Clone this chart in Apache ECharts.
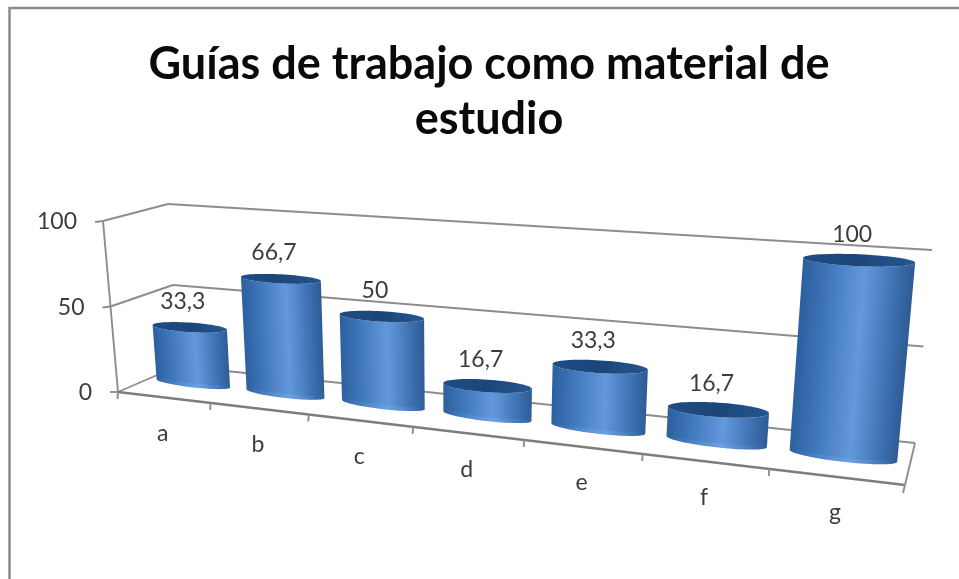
<!DOCTYPE html>
<html><head><meta charset="utf-8">
<style>html,body{margin:0;padding:0;background:#fff}#c{width:959px;height:579px;filter:blur(0.7px)}</style>
<script src="https://cdn.jsdelivr.net/npm/echarts@6/dist/echarts.min.js"></script>
</head><body><div id="c"></div>
<script>
const titleText = 'Guías de trabajo como material de\nestudio';
const categories = ['a','b','c','d','e','f','g'];
const values = [33.3,66.7,50,16.7,33.3,16.7,100];
const valueTicks = [0,50,100];

// oblique 3D view: screen positions of the plot box corners
const FBL=[118,392],FBR=[905,485],FTL=[103,221],FTR=[925,281];
const BBL=[178,366],BBR=[915,443],BTL=[168,204],BTR=[932,250];
const PERSP=1.25, BAR=0.82, DEPTH=0.52, RB=0.15, RT=0.2, TILT_TOP=0.65;
const FONT='Lato, "Noto Sans", sans-serif';
const LINE='#8d8d8d', TXT='#3c3c3c';

const mix=(a,b,s)=>[a[0]+(b[0]-a[0])*s,a[1]+(b[1]-a[1])*s];
function proj3(t,vf,d){
  const w=t/(t+PERSP*(1-t));
  const fb=mix(FBL,FBR,w),ft=mix(FTL,FTR,w),bb=mix(BBL,BBR,w),bt=mix(BTL,BTR,w);
  return mix(mix(fb,ft,vf),mix(bb,bt,vf),d);
}
// turns a value through the hidden grid's scales into the oblique view
function viewer(params,api){
  const r=params.coordSys;
  const last=categories.length-1;
  return (cat,val,d)=>{
    const base=Math.max(0,Math.min(last,Math.round(cat)));
    const p=api.coord([base,val]);
    const bw=api.size([1,0])[0];
    const t=(p[0]+(cat-base)*bw-r.x)/r.width, vf=(r.y+r.height-p[1])/r.height;
    return proj3(t,vf,d);
  };
}
const seg=(a,b,color,width)=>({type:'line',shape:{x1:a[0],y1:a[1],x2:b[0],y2:b[1]},style:{stroke:color||LINE,lineWidth:width||1.9}});
const txt=(p,s,size,align)=>({type:'text',x:p[0],y:p[1],style:{text:s,fill:TXT,font:size+'px '+FONT,textAlign:align||'center',textVerticalAlign:'middle'}});

function renderValueTick(params,api){
  const P=viewer(params,api), v=api.value(1);
  const f=P(-0.5,v,0), b=P(-0.5,v,1), e=P(categories.length-0.5,v,1);
  const out=[f[0]-8,f[1]+(v===0?0:1)];
  const kids=[seg(f,b),seg(b,e),seg(f,out),txt([f[0]-26,f[1]+1],String(v),23,'right')];
  return {type:'group',children:kids};
}
function renderFrame(params,api){
  const P=viewer(params,api), n=categories.length;
  const kids=[seg(P(-0.5,0,0),P(-0.5,100,0)),seg(P(-0.5,0,0),P(n-0.5,0,0),'#7d7d7d',2.3),seg(P(n-0.5,0,0),P(n-0.5,0,1))];
  return {type:'group',children:kids};
}
function renderCatTick(params,api){
  const P=viewer(params,api), i=api.value(0);
  const kids=[];
  const a=P(i-0.5,0,0);
  kids.push(seg(a,[a[0]-0.5,a[1]+7]));
  if(i===categories.length-1){const z=P(i+0.5,0,0);kids.push(seg(z,[z[0]-2,z[1]+8]));}
  const c=P(i,0,0);
  kids.push(txt([c[0]-1,c[1]+36],categories[i],23));
  return {type:'group',children:kids};
}
function ellipse(P,i,v,r,tilt,from,to,n){
  const C=P(i,v,DEPTH),R=P(i+BAR/2,v,DEPTH),L=P(i-BAR/2,v,DEPTH),B=P(i,v,DEPTH+r),F=P(i,v,DEPTH-r);
  const Ax=(R[0]-L[0])/2,Ay=tilt*(R[1]-L[1])/2,By=(B[1]-F[1])/2;
  const pts=[];
  for(let k=0;k<=n;k++){
    const th=from+(to-from)*k/n;
    pts.push([C[0]+Ax*Math.cos(th),C[1]+Ay*Math.cos(th)+By*Math.sin(th)]);
  }
  return pts;
}
function renderBar(params,api){
  const P=viewer(params,api), i=api.value(0), v=api.value(1);
  const frontB=ellipse(P,i,0,RB,1,0,-Math.PI,36);
  const frontT=ellipse(P,i,v,RT,TILT_TOP,-Math.PI,0,36);
  const top=ellipse(P,i,v,RT,TILT_TOP,0,Math.PI*2,72);
  // shading runs square to the cylinder's leaning axis
  const t=P(i,v,DEPTH), b=P(i,0,DEPTH), L=frontB[36], R=frontB[0];
  const ax=t[0]-b[0], ay=t[1]-b[1], len=Math.hypot(ax,ay)||1;
  const nx=-ay/len, ny=ax/len, half=(R[0]-L[0])/2;
  const cx=(L[0]+R[0])/2, cy=(L[1]+R[1])/2;
  const gx1=cx-nx*half, gy1=cy-ny*half, gx2=cx+nx*half, gy2=cy+ny*half;
  const side=new echarts.graphic.LinearGradient(gx1,gy1,gx2,gy2,[
    {offset:0,color:'#2c609f'},{offset:.2,color:'#3d74b8'},{offset:.56,color:'#6399dc'},
    {offset:.85,color:'#3c70b0'},{offset:1,color:'#2f5c95'}],true);
  const cap=new echarts.graphic.LinearGradient(gx1,gy1,gx2,gy2,[
    {offset:0,color:'#1f4c86'},{offset:.5,color:'#1c4679'},{offset:1,color:'#255690'}],true);
  const rim=new echarts.graphic.LinearGradient(gx1,gy1,gx2,gy2,[
    {offset:0,color:'rgba(120,175,240,0)'},{offset:.55,color:'rgba(120,175,240,.35)'},{offset:1,color:'rgba(120,175,240,0)'}],true);
  const inner=frontB.slice().reverse().map(p=>[p[0],p[1]-4]);
  const label=String(v).replace('.',',');
  return {type:'group',children:[
    {type:'polygon',shape:{points:frontB.concat(frontT)},style:{fill:side}},
    {type:'polygon',shape:{points:frontB.concat(inner)},style:{fill:rim}},
    {type:'polygon',shape:{points:top},style:{fill:cap}},
    txt([t[0]-7,t[1]-26],label,23)
  ]};
}
const silent={silent:true,coordinateSystem:'cartesian2d',xAxisIndex:0,yAxisIndex:0,clip:false};
const option={
  backgroundColor:'#fff',animation:false,tooltip:{show:false},
  title:{text:titleText,left:484,top:32,textAlign:'center',
    textStyle:{fontFamily:FONT,fontWeight:'bold',fontSize:45,lineHeight:55,color:'#0a0a0a'}},
  grid:{left:100,top:200,width:800,height:200,show:false},
  xAxis:{type:'category',data:categories,show:false},
  yAxis:{type:'value',min:0,max:100,interval:50,show:false},
  graphic:[{type:'polyline',silent:true,shape:{points:[[9.5,579],[9.5,8],[959,8]]},style:{fill:null,stroke:'#8a8a8a',lineWidth:2.5}}],
  series:[
    Object.assign({type:'custom',name:'ticks',data:valueTicks.map(v=>[0,v]),renderItem:renderValueTick},silent),
    Object.assign({type:'custom',name:'frame',data:[[0,0]],renderItem:renderFrame},silent),
    Object.assign({type:'custom',name:'cats',data:categories.map((c,i)=>[i,0]),renderItem:renderCatTick},silent),
    Object.assign({type:'custom',name:'Guías',data:values.map((v,i)=>[i,v]),renderItem:renderBar},silent)
  ]
};
echarts.init(document.getElementById('c'),null,{renderer:'canvas'}).setOption(option);
</script></body></html>
